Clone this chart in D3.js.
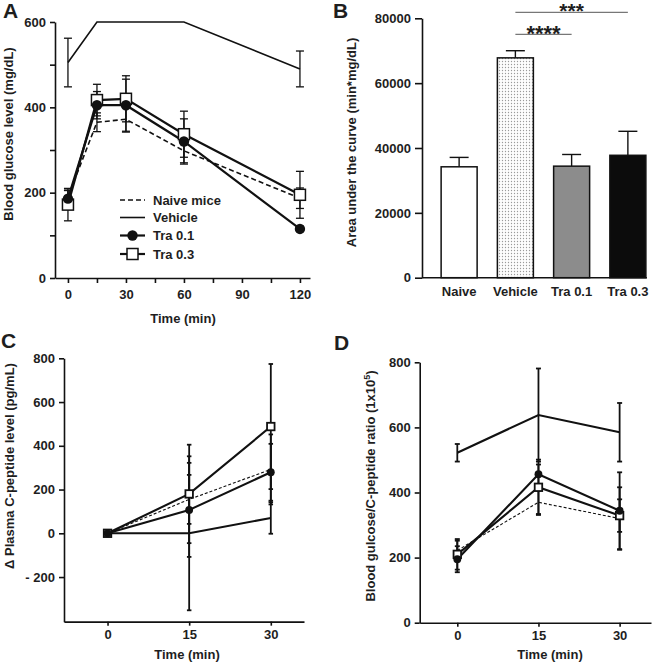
<!DOCTYPE html>
<html><head><meta charset="utf-8">
<script src="https://cdn.jsdelivr.net/npm/d3@7"></script>
<style>
body{margin:0;background:#fff}
svg text{font-family:"Liberation Sans",Arial,sans-serif;font-weight:bold;fill:#1e1e1e}
</style>
</head><body>
<svg id="c" width="666" height="663"></svg>
<script>
// ---------- DATA ----------
// Panel A: blood glucose (mg/dL)
const timeA = [0, 15, 30, 60, 120];
const naiveA = [190, 365, 372, 298, 187];
const naiveAErr = [15, 22, 30, 28, 24];
const vehicleA = [505, 600, 600, 600, 490];
const vehicleAErr = [57, 0, 0, 0, 42];
const tra01A = [186, 405, 405, 320, 115];
const tra01AErr = [20, 32, 61, 53, 6];
const tra03A = [172, 417, 420, 337, 195];
const tra03AErr = [38, 37, 54, 54, 55];
const xTicksA = [0, 15, 30, 45, 60, 75, 90, 105, 120];
const yTicksA = [0, 100, 200, 300, 400, 500, 600];
const legendLabels = ["Naive mice", "Vehicle", "Tra 0.1", "Tra 0.3"];

// Panel B: AUC
const groupsB = ["Naive", "Vehicle", "Tra 0.1", "Tra 0.3"];
const aucB = [34200, 67800, 34400, 37750];
const aucBErr = [2900, 2200, 3600, 7400];
const yTicksB = [0, 20000, 40000, 60000, 80000];
const sigB = [["Vehicle", "Tra 0.1", "****"], ["Vehicle", "Tra 0.3", "***"]];

// Panel C: delta plasma C-peptide (pg/mL)
const timeC = [0, 15, 30];
const naiveC = [0, 155, 292];
const naiveCErr = [0, 112, 160];
const vehicleC = [0, 0, 70];
const vehicleCErr = [0, 352, 72];
const tra01C = [0, 107, 279];
const tra01CErr = [0, 215, 130];
const tra03C = [0, 180, 488];
const tra03CErr = [0, 225, 286];
const yTicksC = [-200, 0, 200, 400, 600, 800];

// Panel D: blood glucose / C-peptide ratio
const timeD = [0, 15, 30];
const naiveD = [222, 370, 320];
const naiveDErr = [30, 36, 96];
const vehicleD = [522, 638, 585];
const vehicleDErr = [27, 143, 90];
const tra01D = [195, 456, 344];
const tra01DErr = [40, 30, 118];
const tra03D = [210, 416, 329];
const tra03DErr = [47, 85, 50];
const yTicksD = [0, 200, 400, 600, 800];

// ---------- DRAW ----------
const svg = d3.select("#c");
const defs = svg.append("defs");
const pat = defs.append("pattern").attr("id", "dots").attr("width", 3).attr("height", 3)
  .attr("patternUnits", "userSpaceOnUse");
pat.append("rect").attr("width", 3).attr("height", 3).attr("fill", "#fdfdfd");
pat.append("circle").attr("cx", 1.5).attr("cy", 1.5).attr("r", 0.65).attr("fill", "#9a9a9a");

const FS = 13;

function styleAxis(g, sw) {
  g.selectAll("path.domain").attr("stroke", "#111").attr("stroke-width", sw);
  g.selectAll(".tick line").attr("stroke", "#111").attr("stroke-width", sw);
  g.selectAll("text").attr("font-size", FS).attr("font-family", null).attr("fill", "#1e1e1e");
  g.attr("font-family", null).attr("font-size", null);
}

function panelLabel(txt, x, y) {
  svg.append("text").attr("x", x).attr("y", y).attr("font-size", 21).text(txt);
}

function yTitle(txt, x, y) {
  return svg.append("text").attr("transform", `translate(${x},${y}) rotate(-90)`)
    .attr("text-anchor", "middle").attr("font-size", FS).text(txt);
}

function xTitle(txt, x, y) {
  svg.append("text").attr("x", x).attr("y", y).attr("text-anchor", "middle")
    .attr("font-size", FS).text(txt);
}

function drawSeries(g, x, y, times, list, st) {
  // error bars
  list.forEach(s => {
    times.forEach((t, i) => {
      const e = s.err[i];
      if (!e) return;
      const cx = x(t), y1 = y(s.vals[i] - e), y2 = y(s.vals[i] + e);
      g.append("line").attr("x1", cx).attr("x2", cx).attr("y1", y1).attr("y2", y2)
        .attr("stroke", "#111").attr("stroke-width", st.ew);
      [y1, y2].forEach(yy => g.append("line").attr("x1", cx - st.cap / 2).attr("x2", cx + st.cap / 2)
        .attr("y1", yy).attr("y2", yy).attr("stroke", "#111").attr("stroke-width", st.ew));
    });
  });
  const line = d3.line().x(d => x(d[0])).y(d => y(d[1]));
  list.forEach(s => {
    g.append("path").datum(times.map((t, i) => [t, s.vals[i]])).attr("d", line)
      .attr("fill", "none").attr("stroke", "#111")
      .attr("stroke-width", s.dash ? st.dw : (s.marker ? st.lw : st.vw))
      .attr("stroke-dasharray", s.dash ? st.dash : null);
  });
  list.filter(s => s.marker === "square").forEach(s => {
    times.forEach((t, i) => {
      g.append("rect").attr("x", x(t) - st.sq / 2).attr("y", y(s.vals[i]) - st.sq / 2)
        .attr("width", st.sq).attr("height", st.sq).attr("fill", "#fff")
        .attr("stroke", "#111").attr("stroke-width", st.sqw);
    });
  });
  list.filter(s => s.marker === "circle").forEach(s => {
    times.forEach((t, i) => {
      g.append("circle").attr("cx", x(t)).attr("cy", y(s.vals[i])).attr("r", st.r).attr("fill", "#111");
    });
  });
}

// ===== Panel A =====
{
  const x = d3.scaleLinear().domain([-6.7, 125.2]).range([55, 310]);
  const y = d3.scaleLinear().domain([0, 600]).range([278, 22]);
  const g = svg.append("g");
  const ax = g.append("g").attr("transform", "translate(0,278)")
    .call(d3.axisBottom(x).tickValues(xTicksA).tickFormat(d => d % 30 === 0 ? d : "")
      .tickSize(5).tickPadding(7).tickSizeOuter(0));
  styleAxis(ax, 1.6);
  const ay = g.append("g").attr("transform", "translate(55,0)")
    .call(d3.axisLeft(y).tickValues(yTicksA).tickFormat(d => d % 200 === 0 ? d : "")
      .tickSize(5).tickPadding(4).tickSizeOuter(0));
  styleAxis(ay, 1.6);
  const list = [
    {vals: naiveA, err: naiveAErr, dash: true},
    {vals: vehicleA, err: vehicleAErr},
    {vals: tra01A, err: tra01AErr, marker: "circle"},
    {vals: tra03A, err: tra03AErr, marker: "square"}
  ];
  drawSeries(g, x, y, timeA, list,
    {ew: 1.3, cap: 8, lw: 2.2, vw: 1.6, dw: 1.6, dash: "5,3", sq: 11, sqw: 1.5, r: 5.2});
  // legend
  const rows = [200, 217.5, 235.5, 254];
  legendLabels.forEach((lab, i) => {
    const s = list[i], ry = rows[i];
    g.append("line").attr("x1", 120).attr("x2", 145).attr("y1", ry).attr("y2", ry)
      .attr("stroke", "#111").attr("stroke-width", s.dash ? 1.6 : (s.marker ? 2.2 : 1.6))
      .attr("stroke-dasharray", s.dash ? "5,3" : null);
    if (s.marker === "circle") g.append("circle").attr("cx", 132.5).attr("cy", ry).attr("r", 5.2).attr("fill", "#111");
    if (s.marker === "square") g.append("rect").attr("x", 127).attr("y", ry - 5.5).attr("width", 11).attr("height", 11)
      .attr("fill", "#fff").attr("stroke", "#111").attr("stroke-width", 1.5);
    g.append("text").attr("x", 153).attr("y", ry + 4.6).attr("font-size", FS).text(lab);
  });
  panelLabel("A", 3, 18);
  yTitle("Blood glucose level (mg/dL)", 13, 134);
  xTitle("Time (min)", 183, 323);
}

// ===== Panel B =====
{
  const x = d3.scaleBand().domain(groupsB).range([422, 665]).paddingInner(0.36).paddingOuter(0.34);
  const y = d3.scaleLinear().domain([0, 80000]).range([277.7, 18.3]);
  const g = svg.append("g");
  const fills = ["#fff", "url(#dots)", "#8c8c8c", "#0c0c0c"];
  groupsB.forEach((k, i) => {
    const bx = x(k), bw = x.bandwidth(), top = y(aucB[i]), etop = y(aucB[i] + aucBErr[i]);
    g.append("line").attr("x1", bx + bw / 2).attr("x2", bx + bw / 2).attr("y1", top).attr("y2", etop)
      .attr("stroke", "#111").attr("stroke-width", 1.4);
    g.append("line").attr("x1", bx + bw / 2 - 9.5).attr("x2", bx + bw / 2 + 9.5).attr("y1", etop).attr("y2", etop)
      .attr("stroke", "#111").attr("stroke-width", 1.4);
    g.append("rect").attr("x", bx).attr("y", top).attr("width", bw).attr("height", y(0) - top)
      .attr("fill", fills[i]).attr("stroke", "#111").attr("stroke-width", 1.5);
    g.append("text").attr("x", bx + bw / 2).attr("y", 296).attr("text-anchor", "middle")
      .attr("font-size", FS).text(k);
  });
  const endX = x(groupsB[groupsB.length - 1]) + x.bandwidth();
  g.append("line").attr("x1", 422).attr("x2", endX + 1).attr("y1", y(0)).attr("y2", y(0))
    .attr("stroke", "#111").attr("stroke-width", 1.6);
  const ay = g.append("g").attr("transform", "translate(422,0)")
    .call(d3.axisLeft(y).tickValues(yTicksB).tickFormat(d3.format("d"))
      .tickSize(7).tickPadding(4).tickSizeOuter(0));
  styleAxis(ay, 1.6);
  // significance
  const levels = [34.3, 12.3];
  sigB.forEach((s, i) => {
    const x1 = x(s[0]) + x.bandwidth() / 2, x2 = x(s[1]) + x.bandwidth() / 2, ly = levels[i];
    g.append("line").attr("x1", x1).attr("x2", x2).attr("y1", ly).attr("y2", ly)
      .attr("stroke", "#777").attr("stroke-width", 1.2);
    g.append("text").attr("x", (x1 + x2) / 2).attr("y", ly + (i === 0 ? 6.5 : 5.5)).attr("text-anchor", "middle")
      .attr("font-size", i === 0 ? 22 : 21).text(s[2]);
  });
  panelLabel("B", 333, 18);
  yTitle("Area under the curve (min*mg/dL)", 356, 142.5);
}

// ===== Panel C =====
{
  const x = d3.scaleLinear().domain([-8, 36.1]).range([64, 304]);
  const y = d3.scaleLinear().domain([0, 800]).range([533.3, 358.3]);
  const g = svg.append("g");
  const yb = y(-404);
  const ax = g.append("g").attr("transform", `translate(0,${yb})`)
    .call(d3.axisBottom(x).tickValues(timeC).tickSize(4).tickPadding(4).tickSizeOuter(0));
  styleAxis(ax, 1.6);
  const ay = g.append("g").attr("transform", "translate(64,0)")
    .call(d3.axisLeft(y.copy().domain([-404, 800]).range([yb, 358.3])).tickValues(yTicksC)
      .tickFormat(d => d < 0 ? "- " + Math.abs(d) : d).tickSize(5).tickPadding(4).tickSizeOuter(0));
  styleAxis(ay, 1.6);
  const list = [
    {vals: naiveC, err: naiveCErr, dash: true},
    {vals: vehicleC, err: vehicleCErr},
    {vals: tra01C, err: tra01CErr, marker: "circle"},
    {vals: tra03C, err: tra03CErr, marker: "square"}
  ];
  drawSeries(g, x, y, timeC, list,
    {ew: 1.8, cap: 4.5, lw: 2.1, vw: 2.1, dw: 1.1, dash: "3,2", sq: 7.5, sqw: 1.8, r: 3.9});
  panelLabel("C", 1, 348);
  yTitle("Δ Plasma C-peptide level (pg/mL)", 14, 466);
  xTitle("Time (min)", 187, 659);
}

// ===== Panel D =====
{
  const x = d3.scaleLinear().domain([-6.95, 35.8]).range([419.7, 651]);
  const y = d3.scaleLinear().domain([0, 800]).range([622.7, 362.3]);
  const g = svg.append("g");
  const ax = g.append("g").attr("transform", "translate(0,622.7)")
    .call(d3.axisBottom(x).tickValues(timeD).tickSize(4).tickPadding(4).tickSizeOuter(0));
  styleAxis(ax, 1.6);
  const ay = g.append("g").attr("transform", "translate(419.7,0)")
    .call(d3.axisLeft(y).tickValues(yTicksD).tickSize(5).tickPadding(4).tickSizeOuter(0));
  styleAxis(ay, 1.6);
  const list = [
    {vals: naiveD, err: naiveDErr, dash: true},
    {vals: vehicleD, err: vehicleDErr},
    {vals: tra01D, err: tra01DErr, marker: "circle"},
    {vals: tra03D, err: tra03DErr, marker: "square"}
  ];
  drawSeries(g, x, y, timeD, list,
    {ew: 1.8, cap: 5, lw: 2.1, vw: 2.1, dw: 1.1, dash: "3,2", sq: 7.5, sqw: 1.8, r: 3.9});
  panelLabel("D", 334, 350);
  const t = yTitle("", 375, 486);
  t.append("tspan").text("Blood gulcose/C-peptide ratio (1x10");
  t.append("tspan").attr("dy", -5).attr("font-size", 9).text("5");
  t.append("tspan").attr("dy", 5).text(")");
  xTitle("Time (min)", 550, 659);
}
</script>
</body></html>
